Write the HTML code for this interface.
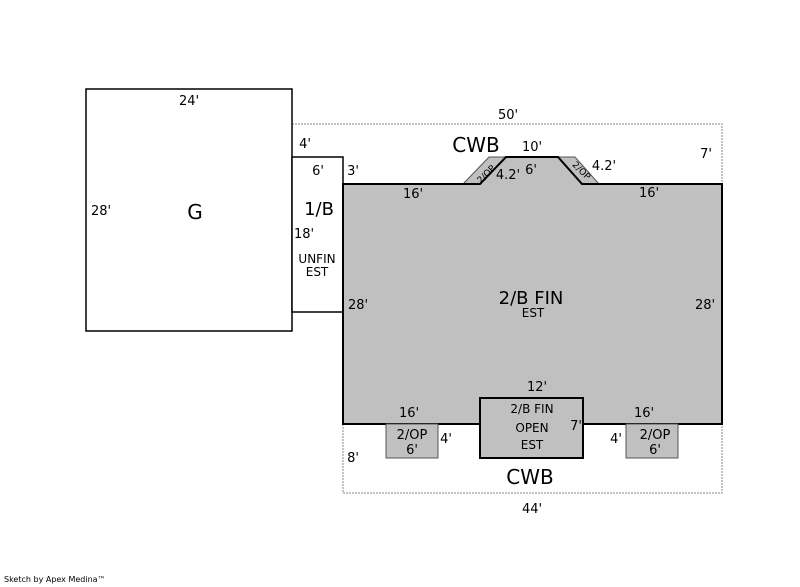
<!DOCTYPE html>
<html><head><style>body{margin:0;background:#fff}svg{display:block}text{font-family:Verdana,"DejaVu Sans",sans-serif;fill:#000}</style></head><body>
<svg width="800" height="587" viewBox="0 0 800 587" xmlns="http://www.w3.org/2000/svg">
<g fill="none" stroke="#888" stroke-width="1" stroke-dasharray="2,1">
<polyline points="292,157 292,124 722,124 722,184"/>
<polyline points="343,424 343,493 722,493 722,424"/>
</g>
<rect x="86" y="89" width="206" height="242" fill="#fff" stroke="#000" stroke-width="1.5"/>
<rect x="292" y="157" width="51" height="155" fill="#fff" stroke="#000" stroke-width="1.5"/>
<polygon points="463,184 489,157 506,157 480,184" fill="#c0c0c0" stroke="#555" stroke-width="1"/>
<polygon points="558,157 575,157 599,184 582,184" fill="#c0c0c0" stroke="#555" stroke-width="1"/>
<polygon points="343,184 480,184 506,157 558,157 582,184 722,184 722,424 343,424" fill="#c0c0c0" stroke="#000" stroke-width="2"/>
<rect x="386" y="424" width="52" height="34" fill="#c0c0c0" stroke="#555" stroke-width="1"/>
<rect x="626" y="424" width="52" height="34" fill="#c0c0c0" stroke="#555" stroke-width="1"/>
<rect x="480" y="398" width="103" height="60" fill="#c0c0c0" stroke="#000" stroke-width="2"/>
<g font-size="13" text-anchor="middle">
<text x="189" y="105">24'</text>
<text x="101" y="215">28'</text>
<text x="195" y="219" font-size="20">G</text>
<text x="508" y="119">50'</text>
<text x="305" y="148">4'</text>
<text x="318" y="175">6'</text>
<text x="353" y="175">3'</text>
<text x="319" y="215" font-size="18">1/B</text>
<text x="304" y="238">18'</text>
<text x="317" y="263" font-size="12">UNFIN</text>
<text x="317" y="276" font-size="12">EST</text>
<text x="358" y="309">28'</text>
<text x="705" y="309">28'</text>
<text x="476" y="152" font-size="20">CWB</text>
<text x="532" y="151">10'</text>
<text x="706" y="158">7'</text>
<text x="508" y="179">4.2'</text>
<text x="531" y="174">6'</text>
<text x="604" y="170">4.2'</text>
<text x="413" y="198">16'</text>
<text x="649" y="197">16'</text>
<text x="531" y="304" font-size="18">2/B FIN</text>
<text x="533" y="317" font-size="12">EST</text>
<text x="537" y="391">12'</text>
<text x="532" y="413" font-size="12">2/B FIN</text>
<text x="532" y="432" font-size="12">OPEN</text>
<text x="532" y="449" font-size="12">EST</text>
<text x="576" y="430">7'</text>
<text x="409" y="417">16'</text>
<text x="644" y="417">16'</text>
<text x="412" y="439">2/OP</text>
<text x="412" y="454">6'</text>
<text x="446" y="443">4'</text>
<text x="616" y="443">4'</text>
<text x="655" y="439">2/OP</text>
<text x="655" y="454">6'</text>
<text x="353" y="462">8'</text>
<text x="530" y="484" font-size="20">CWB</text>
<text x="532" y="513">44'</text>
</g>
<text x="484" y="178" font-size="9" transform="rotate(-45 484 172)" text-anchor="middle">2/OP</text>
<text x="580" y="173" font-size="9" transform="rotate(45 580 172)" text-anchor="middle">2/OP</text>
<text x="4" y="582" font-size="8">Sketch by Apex Medina™</text>
</svg>
</body></html>
